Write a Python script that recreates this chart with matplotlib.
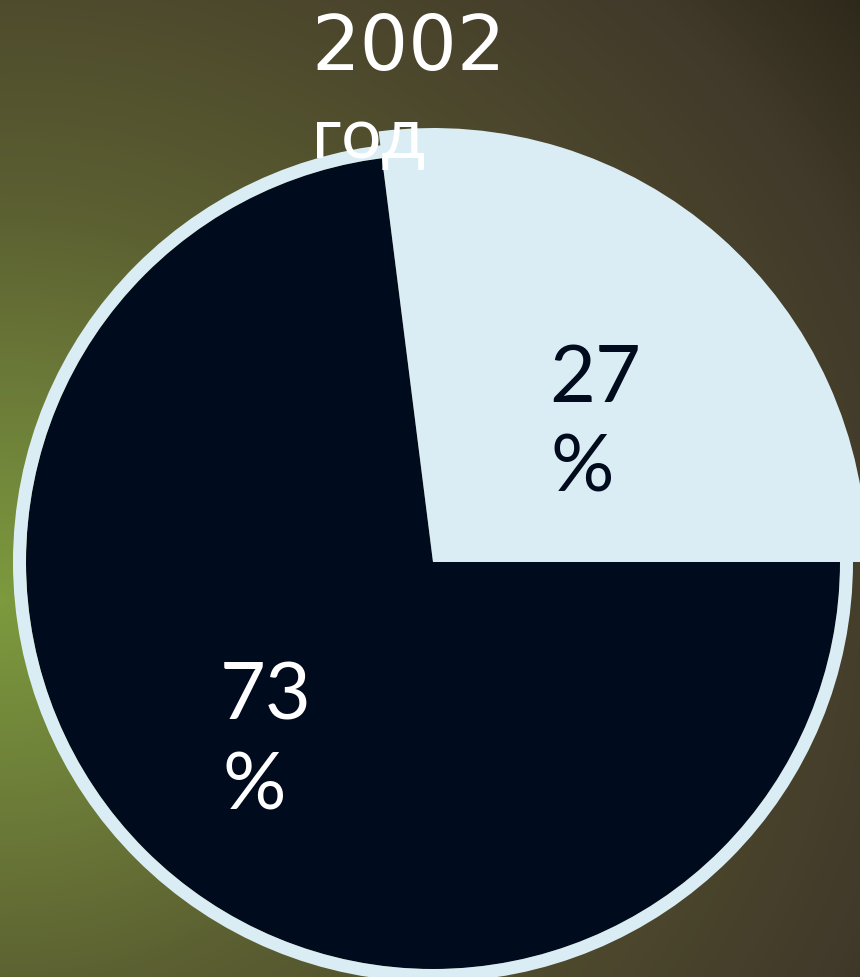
import numpy as np
import matplotlib
matplotlib.use("Agg")
import matplotlib.pyplot as plt
from matplotlib.colors import LinearSegmentedColormap
from matplotlib.patches import Circle

# ---- data ----
categories = ["A", "B"]
values = [27, 73]
value_suffix = "%"
title_lines = ["2002", "год"]

# ---- style ----
light = "#DAEDF4"
dark = "#010B1E"
W, H = 860, 977
FONT = ["Lato", "Noto Sans", "DejaVu Sans"]

fig = plt.figure(figsize=(W / 100, H / 100), dpi=100)
ax = fig.add_axes([0, 0, 1, 1])

# background radial gradient
yy, xx = np.mgrid[0:H, 0:W]
t = np.sqrt((xx / 1000.0) ** 2 + ((yy - 600) / 900.0) ** 2)
bg_cmap = LinearSegmentedColormap.from_list(
    "bg",
    [(0.0, "#7C9A3E"), (0.22, "#6B7A38"), (0.40, "#5B5F31"),
     (0.62, "#4E4A2D"), (0.85, "#41392A"), (1.0, "#2C2819")])
ax.imshow(np.clip(t / 1.1, 0, 1), cmap=bg_cmap, vmin=0, vmax=1,
          extent=[0, W, 0, H], origin="upper", zorder=0, aspect="auto")

cx, cy = 433, H - 562
r_dark = 407
wedges, _ = ax.pie(values, colors=[light, dark], startangle=0, counterclock=True,
                   radius=r_dark, center=(cx, cy), frame=True,
                   wedgeprops=dict(linewidth=0))
wedges[0].set_radius(434)
wedges[0].set_zorder(4)
wedges[1].set_zorder(2)
ring = Circle((cx, cy), r_dark + 6.5, fill=False, edgecolor=light,
              linewidth=13 * 72 / 100, zorder=3)
ax.add_patch(ring)

# title
ax.text(311, H - 70, title_lines[0], fontsize=55, color="white",
        family=["DejaVu Sans"], ha="left", va="baseline", zorder=6)
ax.text(312, H - 158, title_lines[1], fontsize=51, color="white", family=FONT,
        ha="left", va="baseline", zorder=6)

# labels
label_pos = [(549, 402), (220, 720)]
label_col = [dark, "white"]
for v, (lx, ly), c in zip(values, label_pos, label_col):
    ax.text(lx, H - ly, f"{v}", fontsize=57, color=c, family=FONT,
            ha="left", va="baseline", zorder=6)
    ax.text(lx + 2, H - ly - 90, value_suffix, fontsize=57, color=c, family=FONT,
            ha="left", va="baseline", zorder=6)

ax.set_xlim(0, W)
ax.set_ylim(0, H)
ax.set_aspect("auto")
ax.axis("off")
fig.savefig("out.png", dpi=100)
